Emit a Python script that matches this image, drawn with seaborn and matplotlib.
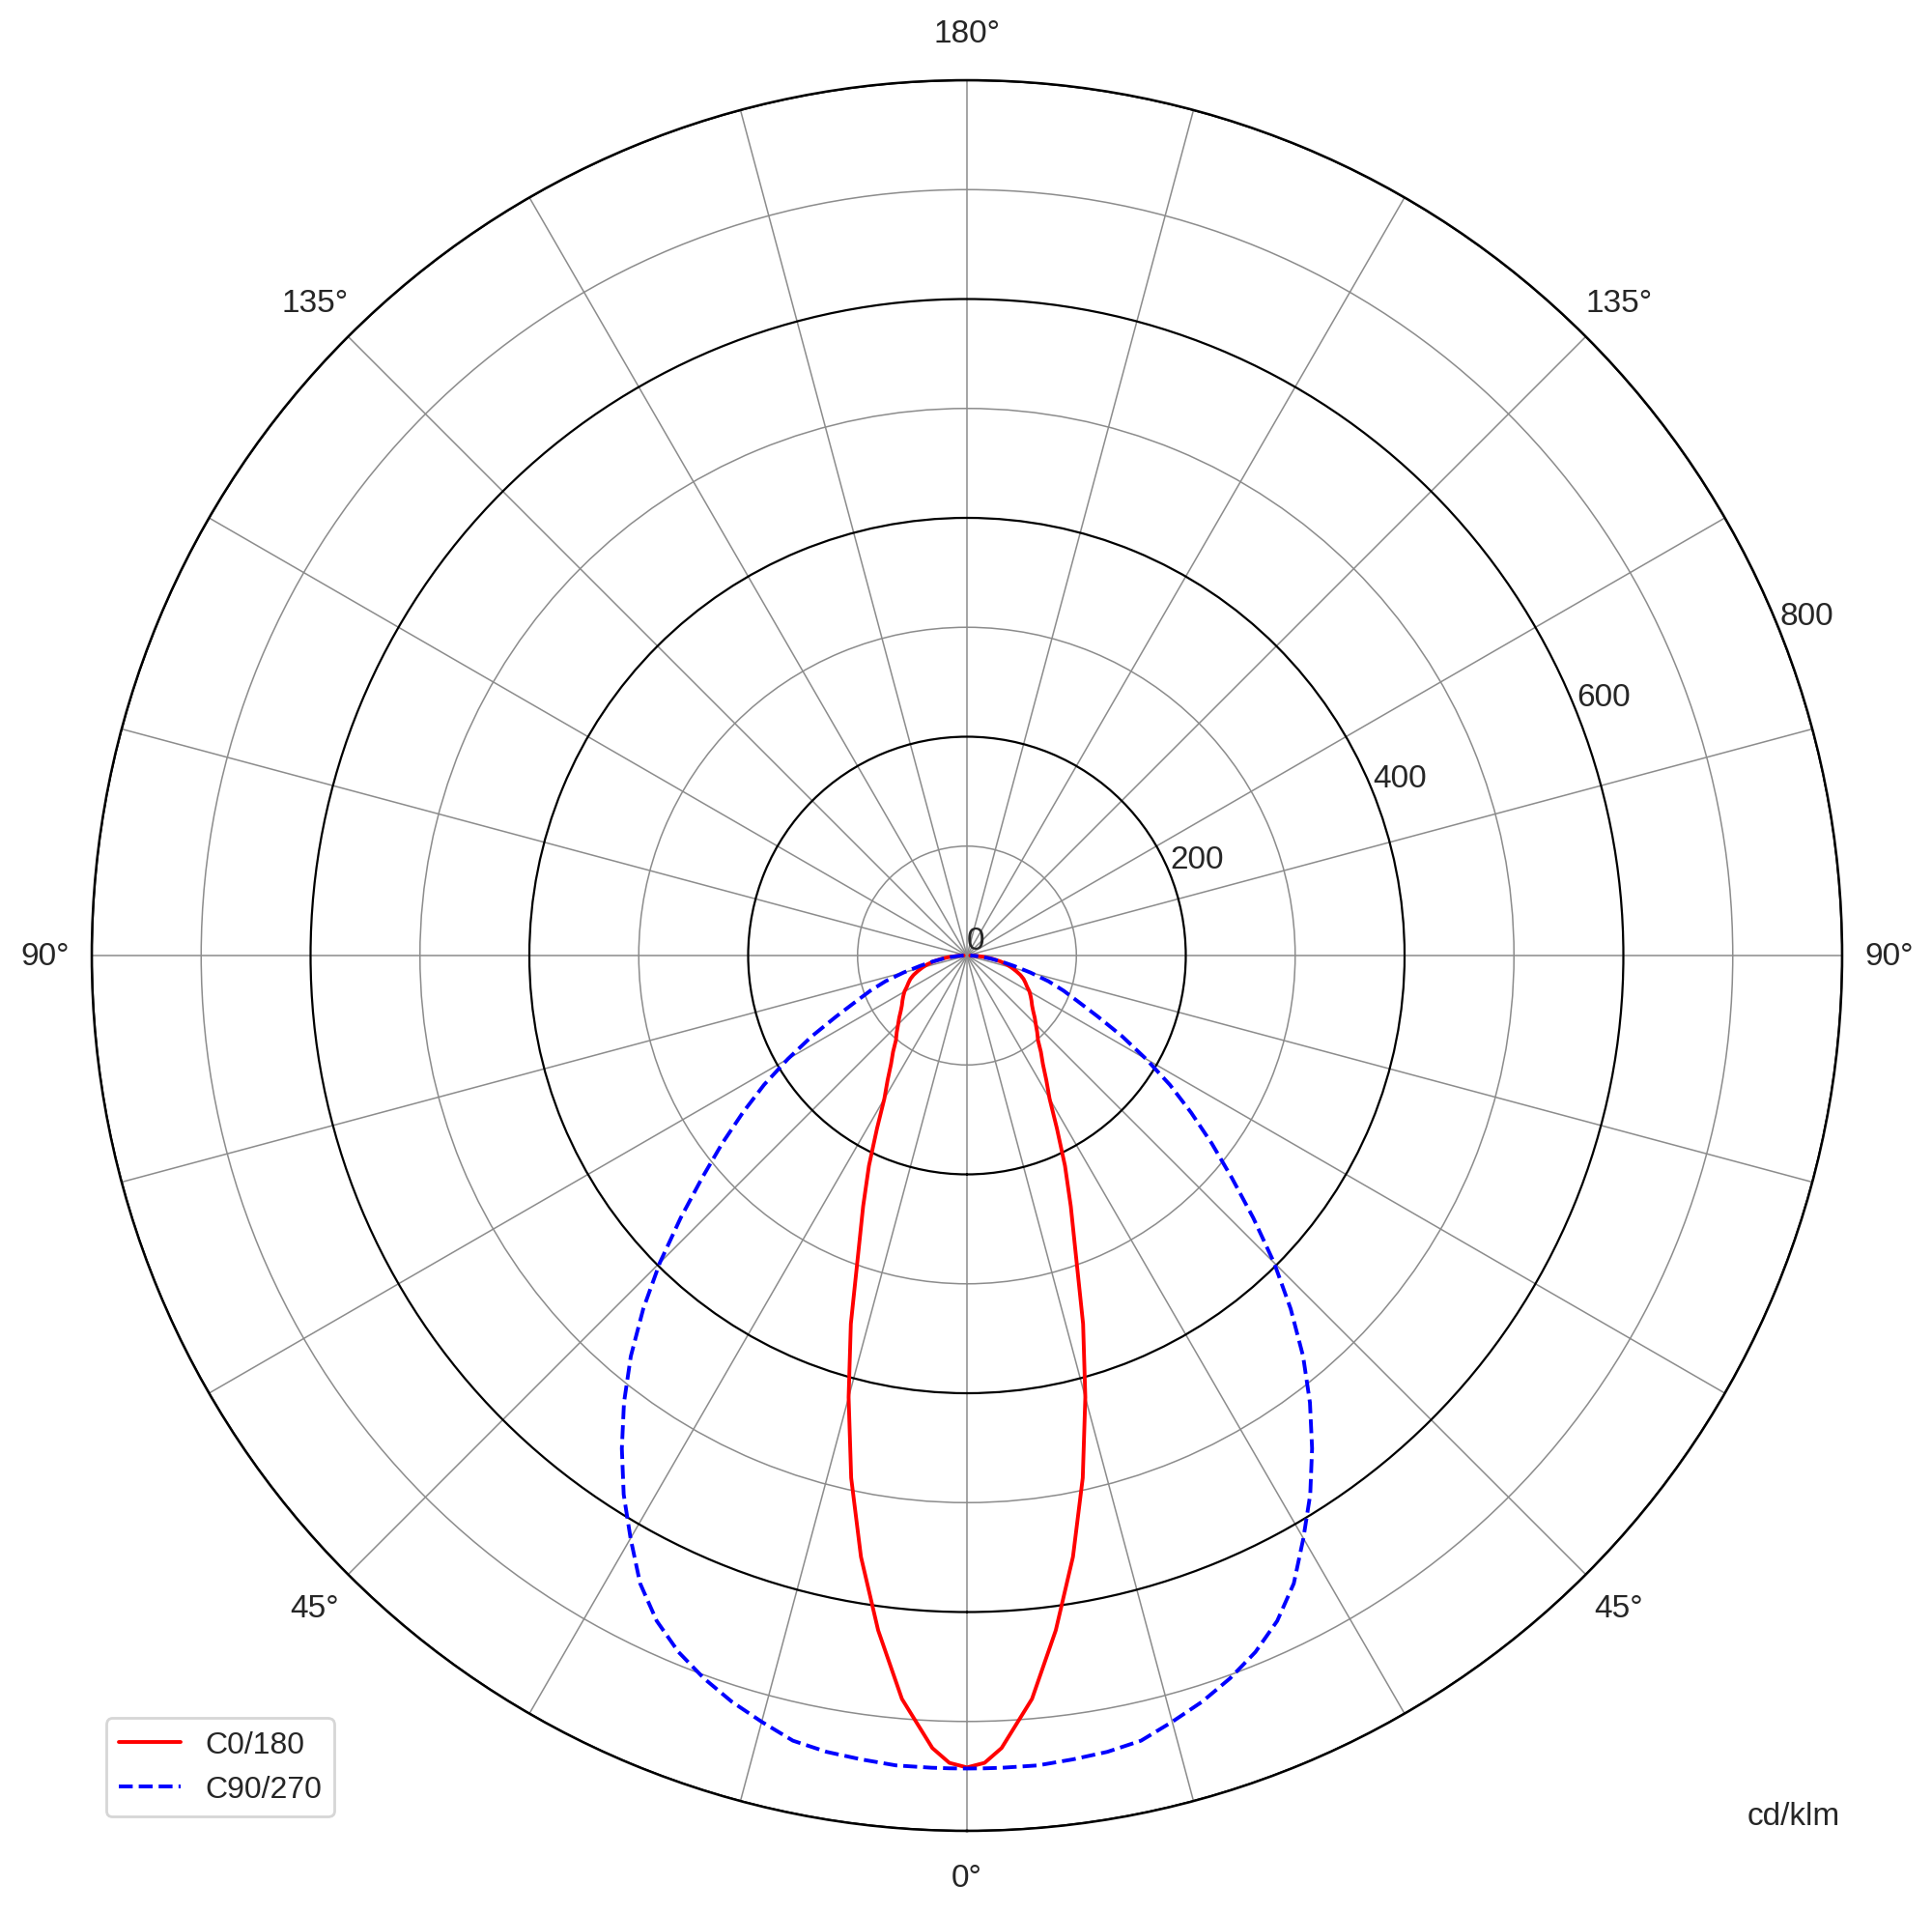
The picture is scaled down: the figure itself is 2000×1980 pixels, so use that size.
import numpy as np
import pandas as pd
import matplotlib
matplotlib.use("Agg")
import matplotlib.pyplot as plt
import seaborn as sns

# luminous intensity distribution (cd/klm), gamma 0..90 deg
gamma = [0, 1.25, 2.5, 5, 7.5, 10, 12.5, 15, 17.5, 20, 22.5, 25, 27.5, 30, 32.5, 35, 37.5,
         40, 42.5, 45, 47.5, 50, 52.5, 55, 57.5, 60, 62.5, 65, 67.5, 70, 72.5, 75,
         77.5, 80, 82.5, 85, 87.5, 90]
c0_180 = [742, 738, 725, 682, 622, 558, 489, 418, 353, 291, 248, 212, 178, 151, 135, 121, 111,
          101, 95, 89, 84, 79, 75, 72, 69, 66, 62, 59, 56, 52, 47, 42,
          37, 31, 24, 17, 10, 3]
c90_270 = [743, 743, 743, 743, 741, 739, 735, 725, 715, 703, 689, 671, 647, 615, 584, 550, 515,
           478, 438, 397, 355, 316, 282, 250, 220, 189, 160, 132, 110, 94, 78, 60,
           44, 32, 22, 14, 8, 3]
series_names = ["C0/180", "C90/270"]
r_ticks = [0, 200, 400, 600, 800]
r_minor = [100, 300, 500, 700]

sns.set_style("white")
plt.rcParams["font.family"] = ["Liberation Sans", "DejaVu Sans"]

# mirror each half-plane so the curve runs from -90 to 90
g = np.array(gamma, dtype=float)
theta = np.deg2rad(np.concatenate([-g[::-1], g[1:]]))
rows = []
for name, vals in zip(series_names, [c0_180, c90_270]):
    v = np.array(vals, dtype=float)
    r = np.concatenate([v[::-1], v[1:]])
    rows.append(pd.DataFrame({"theta": theta, "r": r, "curve": name}))
df = pd.concat(rows, ignore_index=True)

fig = plt.figure(figsize=(10, 9.905), dpi=200)
ax = fig.add_axes([0.0475, 0.0429, 0.906, 0.9147], projection="polar")
ax.set_theta_zero_location("S")
ax.set_theta_direction(1)

sns.lineplot(data=df[df.curve == "C0/180"], x="theta", y="r", ax=ax,
             color="red", lw=1.4, sort=False, label="C0/180")
sns.lineplot(data=df[df.curve == "C90/270"], x="theta", y="r", ax=ax,
             color="blue", lw=1.4, linestyle="--", sort=False, label="C90/270")

ax.set_ylim(0, 800)
ax.set_yticks(r_ticks)
ax.set_yticklabels([str(t) for t in r_ticks], fontsize=12)
ax.set_yticks(r_minor, minor=True)
ax.set_rlabel_position(111.8)
ax.yaxis.grid(True, which="major", color="black", lw=0.8)
ax.yaxis.grid(True, which="minor", color="#8c8c8c", lw=0.55)

angles = np.arange(0, 360, 15)
ax.set_xticks(np.deg2rad(angles))
ax.set_xticklabels([(f"{a if a <= 180 else 360 - a}°" if a % 45 == 0 else "") for a in angles],
                   fontsize=12)
ax.xaxis.grid(True, color="#8c8c8c", lw=0.55)
ax.tick_params(axis="x", pad=7)
ax.spines["polar"].set_color("black")
ax.spines["polar"].set_linewidth(0.9)
ax.set_xlabel("")
ax.set_ylabel("")

ax.legend(loc="lower left", bbox_to_anchor=(110 / 2000, 100 / 1981),
          bbox_transform=fig.transFigure, fontsize=11.5, frameon=True,
          edgecolor="#cccccc", fancybox=True, borderaxespad=0)
fig.text(1857 / 2000, 1 - 1881 / 1981, "cd/klm", ha="center", va="center", fontsize=12)

fig.savefig("out.png", dpi=200)
